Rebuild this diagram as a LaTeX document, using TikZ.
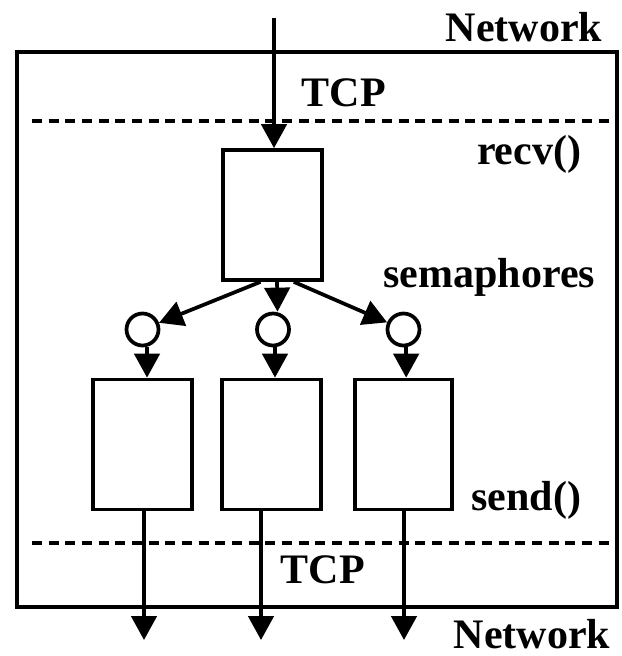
\documentclass[tikz,border=0pt]{standalone}
\usepackage{fontspec}
\setmainfont{Liberation Serif}
\usepackage{tikz}
\usetikzlibrary{arrows.meta,positioning}

\begin{document}
\begin{tikzpicture}[
    x=0.75pt,y=-0.75pt,
    line width=2.8pt,
    box/.style={draw,minimum width=74.25pt,minimum height=97.5pt,inner sep=0pt},
    sema/.style={draw,circle,minimum size=24pt,inner sep=0pt},
    lbl/.style={font=\bfseries\fontsize{31.5}{36}\selectfont,inner sep=0pt},
    arrow/.style={-{Triangle[length=18pt,width=19pt]}},
    dashline/.style={dash pattern=on 7.5pt off 5pt}
  ]
    \useasboundingbox (0,0) rectangle (621,656);
    % frame and layers
    \draw (17,52) rectangle (617,607);
    \draw[dashline] (32,121) -- (613,121);
    \draw[dashline] (32,543) -- (613,543);
    % threads
    \node[box] (recv) at (272.5,215) {};
    \node[sema] (s1) at (142.5,329.5) {};
    \node[sema] (s2) at (273,329.5) {};
    \node[sema] (s3) at (403.5,329.5) {};
    \node[box] (b1) at (142.5,444.5) {};
    \node[box] (b2) at (271.5,444.5) {};
    \node[box,minimum width=72.75pt] (b3) at (403.5,444.5) {};
    \coordinate (in) at (274,18);
    \coordinate (o1) at (144,640);
    \coordinate (o2) at (261,640);
    \coordinate (o3) at (404,640);
    % labels
    \node[lbl,anchor=base east] (nettop) at (604,42) {Network};
    \node[lbl,anchor=base west] (tcptop) at (300,107) {TCP};
    \node[lbl,anchor=base east] (recvl) at (583,165) {recv()};
    \node[lbl,anchor=base east] (semal) at (597,287) {semaphores};
    \node[lbl,anchor=base east] (sendl) at (583,510) {send()};
    \node[lbl,anchor=base west] (tcpbot) at (279,583) {TCP};
    \node[lbl,anchor=base east] (netbot) at (612,648) {Network};
    % arrows
    \draw[arrow] (in) -- (in |- recv.north);
    \draw[arrow] ([xshift=-9pt]recv.south) -- (s1);
    \draw[arrow] ([xshift=3.4pt]recv.south) -- ([xshift=3.4pt]s2.north);
    \draw[arrow] ([xshift=16pt]recv.south) -- (s3);
    \draw[arrow] ([xshift=3.4pt]s1.south) -- ([xshift=3.4pt]b1.north);
    \draw[arrow] ([xshift=1.5pt]s2.south) -- ([xshift=1.5pt]s2.south |- b2.north);
    \draw[arrow] ([xshift=2pt]s3.south) -- ([xshift=2pt]b3.north);
    \draw[arrow] (b1.south -| o1) -- (o1);
    \draw[arrow] (b2.south -| o2) -- (o2);
    \draw[arrow] (b3.south -| o3) -- (o3);
  \end{tikzpicture}
\end{document}
